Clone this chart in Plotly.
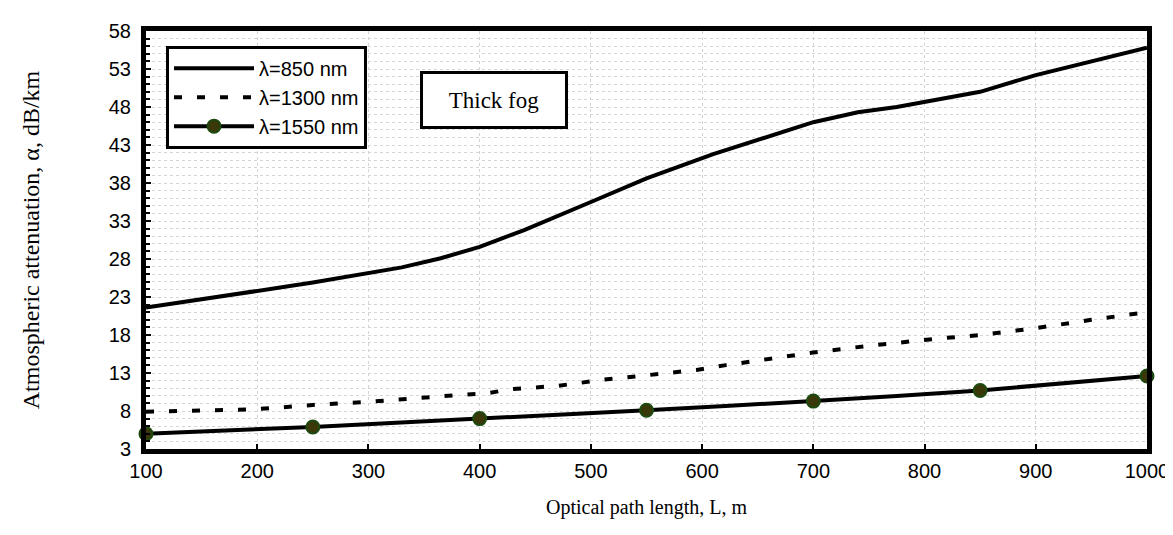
import plotly.graph_objects as go

# ---- data ----
x850 = [100, 165, 250, 330, 365, 400, 440, 500, 550, 610, 660, 700, 740, 775, 850, 900, 1000]
y850 = [21.6, 23.0, 24.9, 26.9, 28.1, 29.6, 31.8, 35.5, 38.6, 41.8, 44.2, 46.0, 47.3, 48.0, 50.0, 52.2, 55.8]

x1300 = [100, 150, 190, 215, 250, 300, 340, 380, 405, 430, 470, 490, 510, 550, 595, 620, 660,
         700, 745, 770, 810, 850, 875, 900, 950, 1000]
y1300 = [7.9, 8.0, 8.2, 8.4, 8.8, 9.2, 9.7, 10.1, 10.3, 10.9, 11.3, 11.7, 12.1, 12.7, 13.4, 14.0, 14.9,
         15.7, 16.5, 16.9, 17.5, 18.0, 18.4, 18.9, 20.0, 21.0]

x1550 = [100, 250, 400, 550, 700, 850, 1000]
y1550 = [5.0, 5.9, 7.0, 8.1, 9.3, 10.7, 12.6]

names = ["λ=850 nm", "λ=1300 nm", "λ=1550 nm"]
x_title = "Optical path length, L, m"
y_title = "Atmospheric attenuation, α, dB/km"
note = "Thick fog"

SANS = "Liberation Sans, Arial, sans-serif"
SERIF = "Liberation Serif, Times New Roman, serif"

fig = go.Figure()
fig.add_trace(go.Scatter(x=x850, y=y850, mode="lines", name=names[0],
                         line=dict(color="black", width=4), cliponaxis=False))
fig.add_trace(go.Scatter(x=x1300, y=y1300, mode="lines", name=names[1],
                         line=dict(color="black", width=4, dash="8px,15px"), cliponaxis=False))
fig.add_trace(go.Scatter(x=x1550, y=y1550, mode="lines+markers", name=names[2],
                         line=dict(color="black", width=4, shape="spline", smoothing=0.4),
                         marker=dict(size=13, color="#3a3808", line=dict(color="#1d4a10", width=2)),
                         cliponaxis=False))

fig.update_layout(
    width=1173, height=535,
    margin=dict(l=138, r=27, t=15, b=94),
    plot_bgcolor="white", paper_bgcolor="white",
    showlegend=True,
    legend=dict(x=0.02, y=0.965, xanchor="left", yanchor="top",
                bgcolor="white", bordercolor="black", borderwidth=3,
                font=dict(family=SANS, size=20, color="black"),
                itemwidth=80, tracegroupgap=0),
    annotations=[dict(text=note, xref="paper", yref="paper", x=0.348, y=0.836,
                      xanchor="center", yanchor="middle",
                      showarrow=False, font=dict(family=SERIF, size=23, color="black"),
                      bordercolor="black", borderwidth=3, bgcolor="white",
                      width=140, height=50)],
)

fig.update_xaxes(
    range=[100, 1000], tick0=100, dtick=100,
    showgrid=True, gridcolor="#d4d4d4", gridwidth=1, griddash="dot",
    showline=True, linecolor="black", linewidth=5, mirror=True,
    ticks="inside", ticklen=5, tickwidth=2, tickcolor="black",
    tickfont=dict(family=SANS, size=20, color="black"),
    zeroline=False,
    title=dict(text=x_title, font=dict(family=SERIF, size=20, color="black"), standoff=20),
)
fig.update_yaxes(
    range=[3, 58], tick0=3, dtick=5,
    showgrid=True, gridcolor="#d4d4d4", gridwidth=1, griddash="dot",
    showline=True, linecolor="black", linewidth=5, mirror=True,
    ticks="inside", ticklen=5, tickwidth=2, tickcolor="black",
    minor=dict(dtick=1, tick0=3, showgrid=True, gridcolor="#d4d4d4", griddash="dot",
               ticks="inside", ticklen=4, tickwidth=2, tickcolor="black"),
    tickfont=dict(family=SANS, size=20, color="black"),
    ticklabelstandoff=6,
    zeroline=False,
    title=dict(text=y_title, font=dict(family=SERIF, size=24, color="black"), standoff=64),
)

fig.write_html("out.html")
